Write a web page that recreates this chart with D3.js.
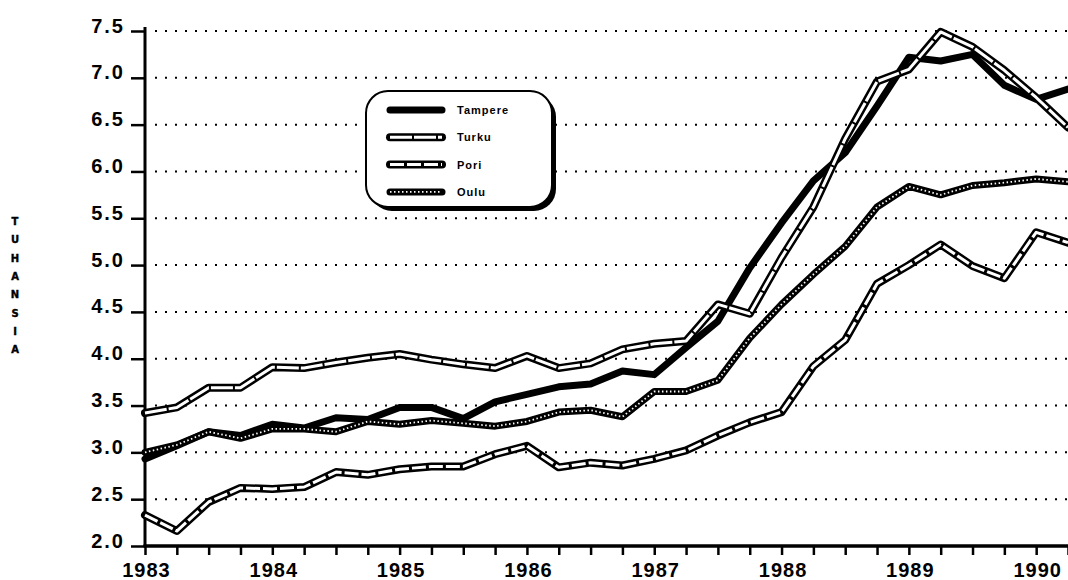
<!DOCTYPE html>
<html>
<head>
<meta charset="utf-8">
<script src="https://cdn.jsdelivr.net/npm/d3@7"></script>
<style>
  body { margin: 0; background: #fff; }
  svg { display: block; }
</style>
</head>
<body>
<div id="chart"></div>
<script>
// quarterly values, thousands
const quarters = [1983, 1983.25, 1983.5, 1983.75, 1984, 1984.25, 1984.5, 1984.75,
  1985, 1985.25, 1985.5, 1985.75, 1986, 1986.25, 1986.5, 1986.75,
  1987, 1987.25, 1987.5, 1987.75, 1988, 1988.25, 1988.5, 1988.75,
  1989, 1989.25, 1989.5, 1989.75, 1990, 1990.25];

const tampere = [2.93, 3.07, 3.22, 3.18, 3.30, 3.26, 3.37, 3.35, 3.48, 3.48, 3.36, 3.54,
  3.62, 3.70, 3.73, 3.87, 3.83, 4.12, 4.40, 4.97, 5.45, 5.90, 6.20, 6.70,
  7.22, 7.18, 7.25, 6.92, 6.77, 6.88];
const turku = [3.42, 3.48, 3.69, 3.69, 3.91, 3.90, 3.96, 4.01, 4.05, 3.99, 3.94, 3.90,
  4.03, 3.90, 3.95, 4.10, 4.16, 4.19, 4.58, 4.48, 5.08, 5.62, 6.35, 6.96,
  7.09, 7.49, 7.33, 7.08, 6.79, 6.47];
const pori = [2.33, 2.16, 2.47, 2.62, 2.61, 2.63, 2.79, 2.76, 2.82, 2.85, 2.85, 2.98,
  3.07, 2.84, 2.89, 2.86, 2.93, 3.02, 3.18, 3.32, 3.43, 3.92, 4.20, 4.80,
  5.00, 5.22, 4.99, 4.86, 5.35, 5.24];
const oulu = [3.00, 3.08, 3.22, 3.15, 3.25, 3.25, 3.22, 3.33, 3.30, 3.34, 3.31, 3.28,
  3.33, 3.43, 3.45, 3.38, 3.65, 3.65, 3.77, 4.22, 4.58, 4.90, 5.20, 5.62,
  5.84, 5.75, 5.85, 5.88, 5.92, 5.89];

const yTicks = [2.0, 2.5, 3.0, 3.5, 4.0, 4.5, 5.0, 5.5, 6.0, 6.5, 7.0, 7.5];
const yearLabels = [1983, 1984, 1985, 1986, 1987, 1988, 1989, 1990];
const seriesNames = ["Tampere", "Turku", "Pori", "Oulu"];
const axisTitle = "TUHANSIA";

function drawChart() {
  const series = [
    { name: "Tampere", values: tampere },
    { name: "Turku", values: turku },
    { name: "Pori", values: pori },
    { name: "Oulu", values: oulu },
  ];

  // stroke layers per series (outline first, then the white inner pattern)
  const strokeStyles = {
    Tampere: [{ stroke: "#000", width: 7 }],
    Turku: [{ stroke: "#000", width: 8 }, { stroke: "#fff", width: 3, dash: "22,2" }],
    Pori: [{ stroke: "#000", width: 8 }, { stroke: "#fff", width: 3, dash: "14,3" }],
    Oulu: [{ stroke: "#000", width: 7 }, { stroke: "#fff", width: 1.8, dash: "1.5,2.5" }],
  };

  let dimensions = {
    width: 1068,
    height: 580,
    margin: { top: 31, right: 0, bottom: 34, left: 145 },
  };
  dimensions.boundedWidth = dimensions.width - dimensions.margin.left - dimensions.margin.right;
  dimensions.boundedHeight = dimensions.height - dimensions.margin.top - dimensions.margin.bottom;

  const wrapper = d3.select("#chart")
    .append("svg")
      .attr("width", dimensions.width)
      .attr("height", dimensions.height);

  const bounds = wrapper.append("g")
      .attr("transform", `translate(${dimensions.margin.left}, ${dimensions.margin.top})`);

  const xScale = d3.scaleLinear()
    .domain([quarters[0], quarters[quarters.length - 1]])
    .range([0, dimensions.boundedWidth]);

  const yScale = d3.scaleLinear()
    .domain([2, 7.5])
    .range([dimensions.boundedHeight, 0]);

  // dotted gridlines
  bounds.append("g")
    .selectAll("line")
    .data(yTicks.filter(d => d > 2))
    .join("line")
      .attr("x1", 10)
      .attr("x2", dimensions.boundedWidth)
      .attr("y1", d => yScale(d))
      .attr("y2", d => yScale(d))
      .attr("stroke", "#000")
      .attr("stroke-width", 2)
      .attr("stroke-dasharray", "2,8");

  // y axis
  const yAxis = d3.axisLeft(yScale)
    .tickValues(yTicks)
    .tickSize(14)
    .tickPadding(0)
    .tickFormat(d3.format(".1f"));

  bounds.append("g")
    .call(yAxis)
    .call(g => g.select(".domain").remove())
    .call(g => g.selectAll(".tick line").attr("stroke", "#000").attr("stroke-width", 2.5))
    .call(g => g.selectAll(".tick text")
      .attr("x", -20)
      .attr("dy", "0.05em")
      .attr("fill", "#000")
      .attr("font-family", "'Liberation Sans', Arial, sans-serif")
      .attr("font-weight", "bold")
      .attr("font-size", 20)
      .attr("letter-spacing", "2px"));

  bounds.append("line")
    .attr("x1", 0)
    .attr("x2", 0)
    .attr("y1", -4)
    .attr("y2", dimensions.boundedHeight)
    .attr("stroke", "#000")
    .attr("stroke-width", 3);

  // x axis: a tick every quarter, labels on whole years
  const xAxis = d3.axisBottom(xScale)
    .tickValues(quarters)
    .tickSize(9)
    .tickPadding(0)
    .tickFormat(d => yearLabels.includes(d) ? d : "");

  bounds.append("g")
    .attr("transform", `translate(0, ${dimensions.boundedHeight})`)
    .call(xAxis)
    .call(g => g.select(".domain").remove())
    .call(g => g.selectAll(".tick line").attr("stroke", "#000").attr("stroke-width", 2.5))
    .call(g => g.selectAll(".tick text")
      .attr("y", 31)
      .attr("dy", 0)
      .attr("dx", "1px")
      .attr("fill", "#000")
      .attr("font-family", "'Liberation Sans', Arial, sans-serif")
      .attr("font-weight", "bold")
      .attr("font-size", 20)
      .attr("letter-spacing", "1px"));

  bounds.append("line")
    .attr("x1", -1.5)
    .attr("x2", dimensions.boundedWidth)
    .attr("y1", dimensions.boundedHeight)
    .attr("y2", dimensions.boundedHeight)
    .attr("stroke", "#000")
    .attr("stroke-width", 3.5);

  // lines
  const lineGenerator = d3.line()
    .x((d, i) => xScale(quarters[i]))
    .y(d => yScale(d));

  const plots = bounds.append("g");
  series.forEach(s => {
    strokeStyles[s.name].forEach((st, k) => {
      plots.append("path")
        .datum(s.values)
        .attr("fill", "none")
        .attr("stroke", st.stroke)
        .attr("stroke-width", st.width)
        .attr("stroke-linejoin", "round")
        .attr("stroke-linecap", k === 0 ? "round" : "butt")
        .attr("stroke-dasharray", st.dash || null)
        .attr("d", lineGenerator);
    });
  });

  // vertical axis title, one letter per row
  wrapper.append("g")
    .selectAll("text")
    .data(axisTitle.split(""))
    .join("text")
      .attr("x", 15)
      .attr("y", (d, i) => 225 + i * 18.3)
      .attr("text-anchor", "middle")
      .attr("font-family", "'DejaVu Sans', sans-serif")
      .attr("font-weight", "bold")
      .attr("font-size", 10)
      .attr("stroke", "#000")
      .attr("stroke-width", 0.4)
      .text(d => d);

  // legend box with drop shadow
  const legend = wrapper.append("g")
    .attr("transform", "translate(366, 91)");

  legend.append("rect")
    .attr("x", 4)
    .attr("y", 4)
    .attr("width", 186)
    .attr("height", 116)
    .attr("rx", 22)
    .attr("fill", "#000");

  legend.append("rect")
    .attr("width", 186)
    .attr("height", 116)
    .attr("rx", 22)
    .attr("fill", "#fff")
    .attr("stroke", "#000")
    .attr("stroke-width", 2);

  const legendItems = legend.selectAll(".item")
    .data(seriesNames)
    .join("g")
      .attr("class", "item")
      .attr("transform", (d, i) => `translate(0, ${19 + i * 27.3})`);

  legendItems.each(function(name) {
    const item = d3.select(this);
    strokeStyles[name].forEach((st, k) => {
      item.append("line")
        .attr("x1", 24)
        .attr("x2", 76)
        .attr("stroke", st.stroke)
        .attr("stroke-width", st.width)
        .attr("stroke-linecap", k === 0 ? "round" : "butt")
        .attr("stroke-dasharray", st.dash || null);
    });
  });

  legendItems.append("text")
    .attr("x", 91)
    .attr("y", 4)
    .attr("font-family", "'Liberation Sans', Arial, sans-serif")
    .attr("font-weight", "bold")
    .attr("font-size", 11)
    .attr("letter-spacing", "1px")
    .text(d => d);
}

drawChart();
</script>
</body>
</html>
